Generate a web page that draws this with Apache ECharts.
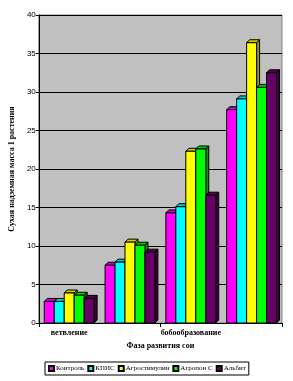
<!DOCTYPE html>
<html><head><meta charset="utf-8">
<script src="https://cdn.jsdelivr.net/npm/echarts@6/dist/echarts.min.js"></script>
<style>html,body{margin:0;padding:0;background:#fff}#c{width:293px;height:381px}</style>
</head><body><div id="c"></div>
<script>
var categories = ['ветвление', 'цветение', 'бобообразование', 'налив семян'];
var seriesNames = ['Контроль', 'КПИС', 'Агростимулин', 'Агропон С', 'Альбит'];
var kontrol = [2.8, 7.5, 14.3, 27.7];
var kpis = [2.8, 7.9, 15.1, 29.1];
var agrostimulin = [3.9, 10.5, 22.3, 36.4];
var agroponS = [3.6, 10.1, 22.6, 30.6];
var albit = [3.2, 9.2, 16.6, 32.5];
var yTicks = [0, 5, 10, 15, 20, 25, 30, 35, 40];
var values = [kontrol, kpis, agrostimulin, agroponS, albit];

var colors = ['#FF00FF', '#00FFFF', '#FFFF00', '#00FF00', '#660066'];
var tops = ['#CC00CC', '#00CCCC', '#CCCC00', '#00CC00', '#520052'];
var sides = ['#990099', '#009999', '#999900', '#009900', '#3D003D'];
var D = 3;
var groupFrac = 0.82;

function makeRender(si) {
  return function (params, api) {
    var ci = api.value(0), v = api.value(1);
    var c = api.coord([ci, v]);
    var base = api.coord([ci, 0]);
    var band = api.size([1, 0])[0];
    var gw = band * groupFrac;
    var bw = gw / seriesNames.length;
    var x0 = c[0] - gw / 2 + si * bw;
    var x1 = x0 + bw;
    var yt = c[1], yb = base[1];
    return {
      type: 'group',
      children: [
        {type: 'polygon', shape: {points: [[x1, yt], [x1 + D, yt - D], [x1 + D, yb - D], [x1, yb]]},
         style: {fill: sides[si], stroke: '#000', lineWidth: 1}},
        {type: 'polygon', shape: {points: [[x0, yt], [x0 + D, yt - D], [x1 + D, yt - D], [x1, yt]]},
         style: {fill: tops[si], stroke: '#000', lineWidth: 1}},
        {type: 'rect', shape: {x: x0, y: yt, width: bw, height: yb - yt},
         style: {fill: colors[si], stroke: '#000', lineWidth: 1}}
      ]
    };
  };
}

var series = seriesNames.map(function (n, si) {
  return {
    name: n, type: 'custom', renderItem: makeRender(si),
    itemStyle: {color: colors[si], borderColor: '#000', borderWidth: 1},
    encode: {x: 0, y: 1},
    data: values[si].map(function (v, i) { return [i, v]; }),
    z: 3
  };
});

var chart = echarts.init(document.getElementById('c'), null, {renderer: 'canvas'});
chart.setOption({
  animation: false,
  grid: {left: 38, right: 11, top: 15, bottom: 58, show: true, backgroundColor: '#C0C0C0', borderColor: '#808080', borderWidth: 1},
  legend: {
    data: seriesNames, bottom: 6, left: 45, itemWidth: 5, itemHeight: 5, itemGap: 3,
    icon: 'rect', padding: [3, 3, 3, 3], borderColor: '#000', borderWidth: 1, backgroundColor: '#fff',
    textStyle: {fontFamily: 'Liberation Serif', fontSize: 7, color: '#000', padding: [0, 0, 0, -3]}
  },
  xAxis: {
    type: 'category', data: categories, boundaryGap: true,
    name: 'Фаза развития сои', nameLocation: 'middle', nameGap: 17,
    nameTextStyle: {fontFamily: 'Liberation Serif', fontWeight: 'bold', fontSize: 8, color: '#000'},
    axisLine: {lineStyle: {color: '#000', width: 1}},
    axisTick: {show: true, length: 4, lineStyle: {color: '#000'}},
    axisLabel: {interval: 1, fontFamily: 'Liberation Serif', fontWeight: 'bold', fontSize: 8, color: '#000', margin: 6},
    splitLine: {show: false}
  },
  yAxis: {
    type: 'value', min: yTicks[0], max: yTicks[yTicks.length - 1], interval: 5,
    name: 'Сухая надземная масса 1 растения', nameLocation: 'middle', nameGap: 18, nameRotate: 90,
    nameTextStyle: {fontFamily: 'Liberation Serif', fontWeight: 'bold', fontSize: 8, color: '#000'},
    axisLine: {show: true, lineStyle: {color: '#000', width: 1}},
    axisTick: {show: true, length: 3, lineStyle: {color: '#000'}},
    axisLabel: {fontFamily: 'Liberation Sans', fontSize: 8, color: '#000', margin: 3},
    splitLine: {show: true, lineStyle: {color: '#000', width: 1}}
  },
  series: series
});
</script></body></html>
